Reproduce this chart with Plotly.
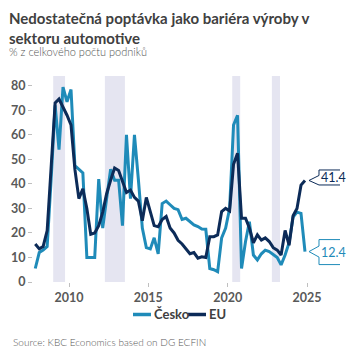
import pandas as pd
import plotly.graph_objects as go

# ---- data (quarterly, % of firms) ----
start_date = "2007-11-15"
cesko = [5.5, 12, 13, 14.5, 42, 72, 54, 79.5, 73.5, 78.5,
         47.5, 46, 44.5, 10, 10, 10, 42, 22, 34, 46,
         41.5, 41.5, 23, 60, 34, 60, 42, 22, 14, 13.5,
         18, 11.5, 32, 33, 31.5, 30, 29.5, 25.5, 26, 24.6,
         23.3, 22.6, 21.6, 21.5, 5.5, 5, 4.2, 18, 22, 30,
         64, 68, 5.5, 16.5, 24.6, 11, 9, 11.5, 13, 12.4,
         11, 10, 7, 11, 16, 26.5, 28.5, 28, 12.4]
eu = [15.5, 13.5, 14.5, 21, 47, 73, 74.6, 71.5, 68, 64,
      46, 34, 38, 30, 19.5, 20, 23, 28.5, 36, 41.5,
      46.5, 45.5, 41, 36.5, 37.5, 34.5, 33, 25, 34.5, 29,
      23, 22.5, 25.5, 26.7, 22, 20, 17, 15.5, 13.5, 11.5,
      12, 9.7, 10.3, 10, 18.5, 18.5, 19.2, 28.7, 30, 29,
      48, 52.5, 26, 26, 22, 16, 19.2, 17.1, 18, 16.5,
      14, 13, 11, 21, 15, 27, 30, 39.5, 41.4]
series_names = ["Česko", "EU"]
shade_start = ["2009-01-01", "2012-04-05", "2020-04-15", "2022-10-15"]
shade_end = ["2009-10-01", "2013-07-10", "2020-10-15", "2023-04-20"]
y_ticks = [0, 10, 20, 30, 40, 50, 60, 70, 80]
x_ticks = ["2010-01-01", "2015-01-01", "2020-01-01", "2025-01-01"]
x_tick_labels = ["2010", "2015", "2020", "2025"]
title = "Nedostatečná poptávka jako bariéra výroby v<br>sektoru automotive"
subtitle = "% z celkového počtu podniků"
source = "Source: KBC Economics based on DG ECFIN"

dates = pd.date_range(start_date, periods=len(eu), freq=pd.DateOffset(months=3))

C_CZ = "#1f8bb9"
C_EU = "#0c2b58"
SHADE = "#e5e5f1"
FONT = "Lato"

# figure sits inside the page body (8px offset); size it to fit the window
W = H = 344
OFF = 8
ML, MR, MT, MB = 25, 12, 68, 70
PW, PH = W - ML - MR, H - MT - MB


def px_x(px):
    return (px - OFF - ML) / PW


def px_y(py):
    return (H - MB - (py - OFF)) / PH


fig = go.Figure()
fig.add_trace(go.Scatter(x=dates, y=cesko, name=series_names[0], mode="lines",
                         line=dict(color=C_CZ, width=3), showlegend=False))
fig.add_trace(go.Scatter(x=dates, y=eu, name=series_names[1], mode="lines",
                         line=dict(color=C_EU, width=3), showlegend=False))

for s, e in zip(shade_start, shade_end):
    fig.add_shape(type="rect", xref="x", yref="y domain", x0=s, x1=e, y0=0, y1=1,
                  fillcolor=SHADE, line=dict(width=0), layer="below")

# callout labels at last values
last_x = dates[-1]
callouts = [
    (eu[-1], C_EU, "M 4,0 L 14,5 L 14,10.5 L 44,10.5 L 44,-4.5 L 14,-4.5 Z", 3),
    (cesko[-1], C_CZ, "M 4,0 L 14,5.5 L 14,12 L 44,12 L 44,-13 L 14,-13 L 14,-5.5 Z", -0.5),
]
for val, col, path, ysh in callouts:
    fig.add_shape(type="path", xsizemode="pixel", ysizemode="pixel",
                  xanchor=last_x, yanchor=val, xref="x", yref="y",
                  path=path, fillcolor="white", line=dict(color=col, width=1))
    fig.add_annotation(x=last_x, y=val, text=f"{val:.1f}", showarrow=False,
                       xshift=29, yshift=ysh, xanchor="center", yanchor="middle",
                       font=dict(family=FONT, size=12.5, color=col))

# manual legend
legend_items = [(series_names[0], C_CZ, 133), (series_names[1], C_EU, 188)]
for name, col, x0 in legend_items:
    fig.add_shape(type="line", xref="paper", yref="paper",
                  x0=px_x(x0), x1=px_x(x0 + 18), y0=px_y(314.5), y1=px_y(314.5),
                  line=dict(color=col, width=3.5))
    fig.add_annotation(xref="paper", yref="paper", x=px_x(x0 + 19), y=px_y(314),
                       xanchor="left", yanchor="middle", showarrow=False, text=f"<b>{name}</b>",
                       font=dict(family=FONT, size=13, color="#404040"))

fig.update_layout(
    width=W, height=H, autosize=False,
    margin=dict(l=ML, r=MR, t=MT, b=MB, autoexpand=False),
    paper_bgcolor="white", plot_bgcolor="white",
    showlegend=False,
)

fig.add_annotation(xref="paper", yref="paper", x=px_x(7), y=px_y(27.5),
                   xanchor="left", yanchor="middle", showarrow=False, align="left",
                   text=f"<b>{title}</b>",
                   font=dict(family=FONT, size=15, color="#404040"))
fig.add_annotation(xref="paper", yref="paper", x=px_x(7), y=px_y(51.5),
                   xanchor="left", yanchor="middle", showarrow=False,
                   text=subtitle,
                   font=dict(family=FONT, size=11, color="#555555", weight=300))
fig.add_annotation(xref="paper", yref="paper", x=px_x(11), y=px_y(342),
                   xanchor="left", yanchor="middle", showarrow=False,
                   text=source,
                   font=dict(family=FONT, size=10, color="#595959", weight=300))

fig.update_xaxes(type="date", range=["2007-09-24", "2027-01-30"], automargin=False,
                 tickvals=x_ticks, ticktext=x_tick_labels,
                 ticks="outside", ticklen=4, tickcolor="#bfbfbf",
                 showgrid=False, zeroline=False, showline=False,
                 tickfont=dict(family=FONT, size=12.5, color="#595959", weight="bold"))
fig.update_yaxes(range=[0, 84], tickvals=y_ticks, automargin=False,
                 ticks="outside", ticklen=4, tickcolor="#bfbfbf",
                 showgrid=False, zeroline=False, showline=False,
                 tickfont=dict(family=FONT, size=12.5, color="#595959", weight="bold"))

fig.write_html("out.html", config={"responsive": False})
